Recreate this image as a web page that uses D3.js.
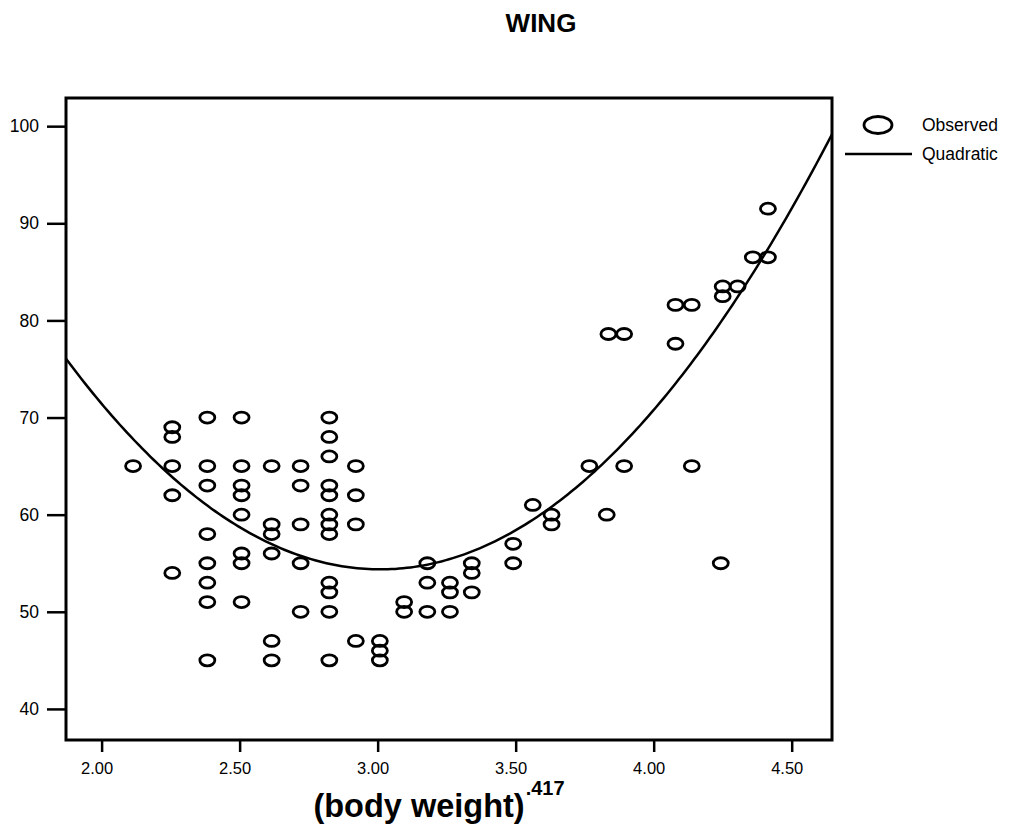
<!DOCTYPE html>
<html>
<head>
<meta charset="utf-8">
<script src="https://cdn.jsdelivr.net/npm/d3@7"></script>
<style>
  html, body { margin: 0; padding: 0; background: #fff; }
  svg { display: block; font-family: "Liberation Sans", Arial, sans-serif; }
</style>
</head>
<body>
<svg id="chart" width="1011" height="828"></svg>
<script>
// ---- Data ----
const chartTitle = "WING";
const xTickValues = [2.0, 2.5, 3.0, 3.5, 4.0, 4.5];
const yTickValues = [40, 50, 60, 70, 80, 90, 100];
const xDomain = [1.871, 4.646];
const yDomain = [36.8, 102.9];

// Observed points: (body weight)^.417 and wing
const bodyWeight = [
  2.114,
  2.256, 2.256, 2.256, 2.256, 2.256,
  2.383, 2.383, 2.383, 2.383, 2.383, 2.383, 2.383, 2.383,
  2.507, 2.507, 2.507, 2.507, 2.507, 2.507, 2.507, 2.507,
  2.616, 2.616, 2.616, 2.616, 2.616, 2.616,
  2.721, 2.721, 2.721, 2.721, 2.721,
  2.825, 2.825, 2.825, 2.825, 2.825, 2.825, 2.825, 2.825, 2.825, 2.825, 2.825, 2.825,
  2.921, 2.921, 2.921, 2.921,
  3.008, 3.008, 3.008,
  3.096, 3.096,
  3.180, 3.180, 3.180,
  3.262, 3.262, 3.262,
  3.341, 3.341, 3.341,
  3.491, 3.491,
  3.562,
  3.630, 3.630,
  3.767,
  3.830,
  3.836,
  3.893, 3.893,
  4.079, 4.079,
  4.138, 4.138,
  4.243,
  4.250, 4.250,
  4.304,
  4.359,
  4.414, 4.414
];
const wing = [
  65,
  69, 68, 65, 62, 54,
  70, 65, 63, 58, 55, 53, 51, 45,
  70, 65, 63, 62, 60, 56, 55, 51,
  65, 59, 58, 56, 47, 45,
  65, 63, 59, 55, 50,
  70, 68, 66, 63, 62, 60, 59, 58, 53, 52, 50, 45,
  65, 62, 59, 47,
  47, 46, 45,
  51, 50,
  55, 53, 50,
  53, 52, 50,
  55, 54, 52,
  57, 55,
  61,
  60, 59,
  65,
  60,
  78.6,
  78.6, 65,
  81.6, 77.6,
  81.6, 65,
  55,
  83.5, 82.5,
  83.5,
  86.5,
  86.5, 91.5
];
// Quadratic fit: wing = b0 + b1*x + b2*x^2
const quadCoef = [205.9, -100.7, 16.73];
const legendLabels = ["Observed", "Quadratic"];

// ---- Drawing ----
const svg = d3.select("#chart");
const frame = { left: 66, right: 832, top: 98, bottom: 740 };

const x = d3.scaleLinear().domain(xDomain).range([frame.left, frame.right]);
const y = d3.scaleLinear().domain(yDomain).range([frame.bottom, frame.top]);

// Title
svg.append("text")
  .attr("x", 541).attr("y", 32)
  .attr("text-anchor", "middle")
  .attr("font-size", 26).attr("font-weight", "bold")
  .text(chartTitle);

// Y axis
const yAxis = svg.append("g")
  .attr("transform", `translate(${frame.left},0)`)
  .call(d3.axisLeft(y).tickValues(yTickValues).tickSize(19).tickPadding(8)
        .tickFormat(d3.format("d")));
yAxis.select(".domain").remove();
yAxis.selectAll(".tick line").attr("stroke", "#000").attr("stroke-width", 2.5);
yAxis.selectAll(".tick text").attr("font-size", 17.5).attr("fill", "#000")
  .attr("font-family", "Liberation Sans, Arial, sans-serif");

// X axis
const xAxis = svg.append("g")
  .attr("transform", `translate(0,${frame.bottom})`)
  .call(d3.axisBottom(x).tickValues(xTickValues).tickSize(12).tickPadding(10)
        .tickFormat(d3.format(".2f")));
xAxis.select(".domain").remove();
xAxis.selectAll(".tick line").attr("stroke", "#000").attr("stroke-width", 2.5);
xAxis.selectAll(".tick text").attr("font-size", 16.5).attr("fill", "#000")
  .attr("dx", -5)
  .attr("font-family", "Liberation Sans, Arial, sans-serif");

// Frame
svg.append("rect")
  .attr("x", frame.left).attr("y", frame.top)
  .attr("width", frame.right - frame.left).attr("height", frame.bottom - frame.top)
  .attr("fill", "none").attr("stroke", "#000").attr("stroke-width", 3);

// Clip for curve
svg.append("clipPath").attr("id", "plotclip")
  .append("rect")
  .attr("x", frame.left).attr("y", frame.top)
  .attr("width", frame.right - frame.left).attr("height", frame.bottom - frame.top);

// Points
const pts = bodyWeight.map((b, i) => ({ b, w: wing[i] }));
svg.append("g").selectAll("ellipse").data(pts).enter().append("ellipse")
  .attr("cx", d => x(d.b)).attr("cy", d => y(d.w))
  .attr("rx", 7.5).attr("ry", 5.5)
  .attr("fill", "none").attr("stroke", "#000").attr("stroke-width", 2.8);

// Quadratic curve
const curveX = d3.range(0, 201).map(i => xDomain[0] + (xDomain[1] - xDomain[0]) * i / 200);
const quad = v => quadCoef[0] + quadCoef[1] * v + quadCoef[2] * v * v;
svg.append("path")
  .datum(curveX)
  .attr("clip-path", "url(#plotclip)")
  .attr("fill", "none").attr("stroke", "#000").attr("stroke-width", 2.5)
  .attr("d", d3.line().x(v => x(v)).y(v => y(quad(v))));

// X axis title
const xt = svg.append("text")
  .attr("x", 439).attr("y", 817)
  .attr("text-anchor", "middle")
  .attr("font-weight", "bold");
xt.append("tspan").attr("font-size", 32.5).text("(body weight)");
xt.append("tspan").attr("font-size", 20).attr("dx", 1).attr("dy", -22).text(".417");

// Legend
const lg = svg.append("g");
lg.append("ellipse").attr("cx", 878).attr("cy", 125).attr("rx", 14).attr("ry", 8.5)
  .attr("fill", "none").attr("stroke", "#000").attr("stroke-width", 2.8);
lg.append("text").attr("x", 922).attr("y", 131).attr("font-size", 17.5).text(legendLabels[0]);
lg.append("line").attr("x1", 845).attr("x2", 912).attr("y1", 154).attr("y2", 154)
  .attr("stroke", "#000").attr("stroke-width", 2.5);
lg.append("text").attr("x", 922).attr("y", 160).attr("font-size", 17.5).text(legendLabels[1]);
</script>
</body>
</html>
